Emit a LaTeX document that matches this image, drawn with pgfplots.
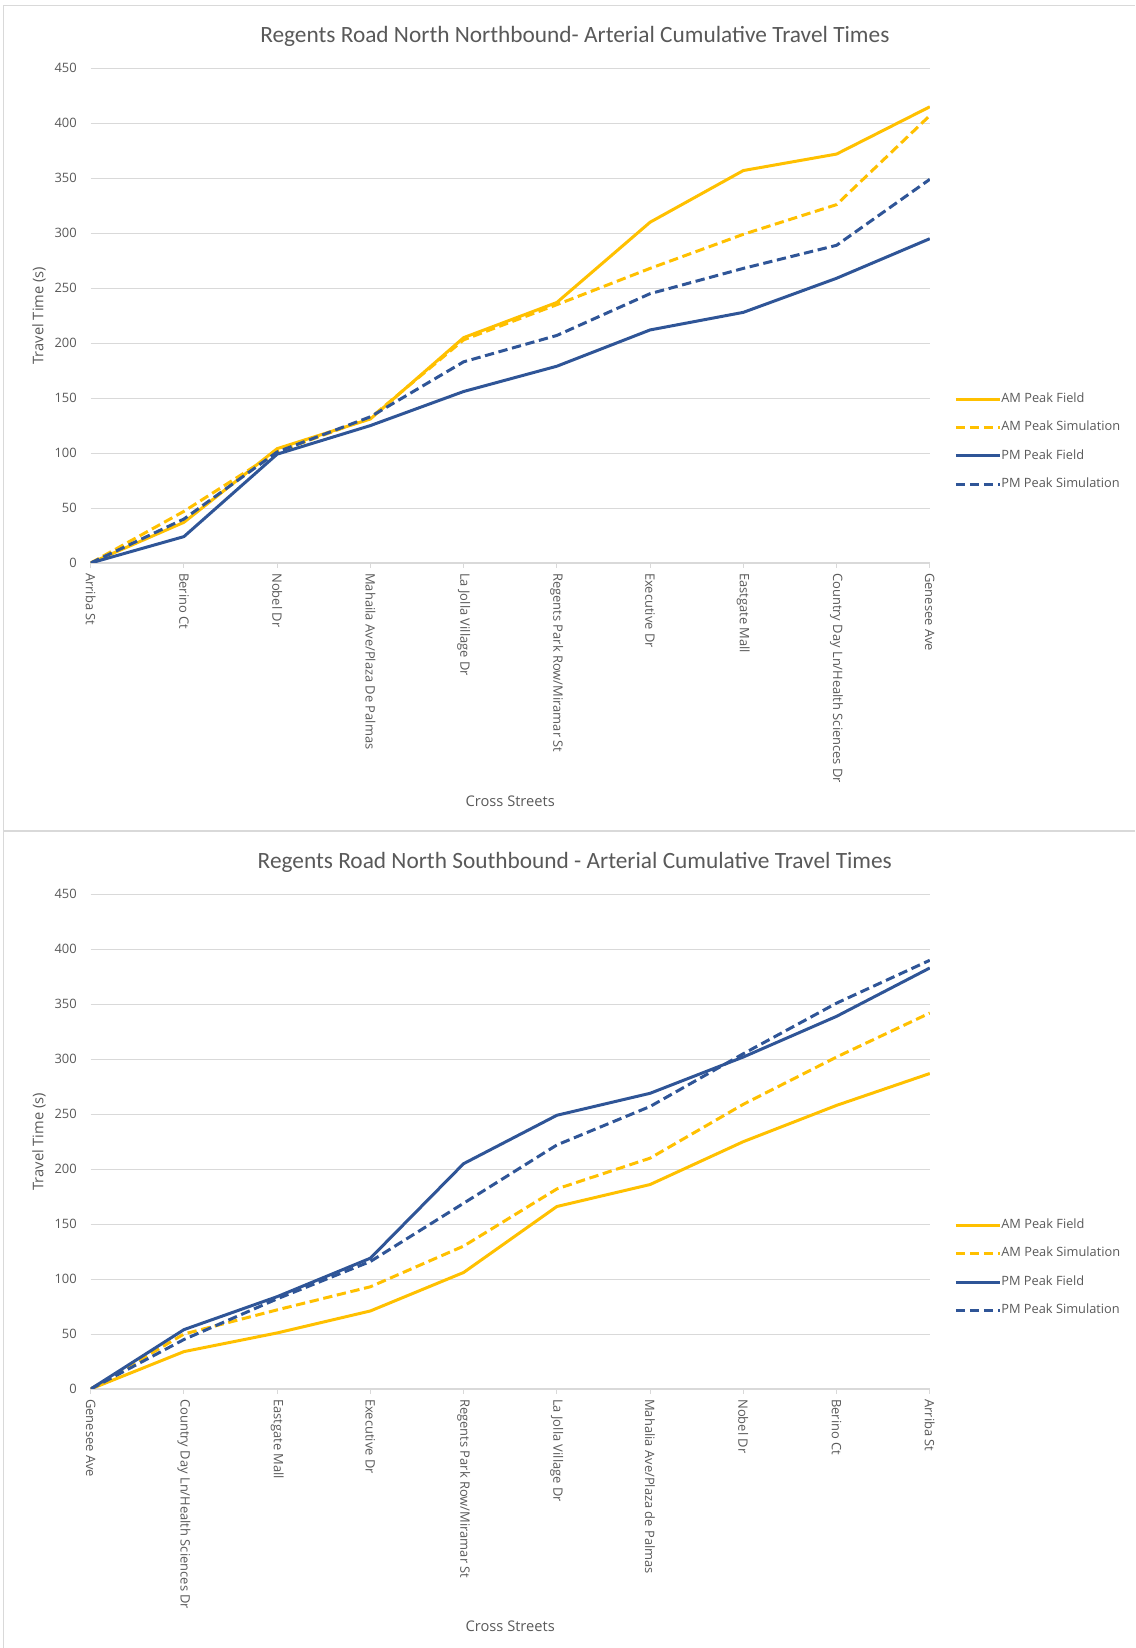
\documentclass[border=0pt]{standalone}
\usepackage{pgfplots}
\pgfplotsset{compat=1.18}
\usepackage{pgfplotstable}
\usepackage{fontspec}
\setmainfont{Carlito}
\newfontfamily\tickfont{Open Sans}

\definecolor{amgold}{HTML}{FFC000}
\definecolor{pmblue}{HTML}{2F5597}
\definecolor{gridgrey}{HTML}{D9D9D9}
\definecolor{txtgrey}{HTML}{595959}

% cumulative travel time (s) at each cross street
\pgfplotstableread{
x amf ams pmf pms
0 0   0   0   0
1 37  47  24  40
2 104 101 99  101
3 131 132 125 133
4 205 203 156 183
5 237 235 179 207
6 310 268 212 245
7 357 299 228 268
8 372 326 259 289
9 415 407 295 349
}\northbound

\pgfplotstableread{
x amf ams pmf pms
0 0   0   0   0
1 34  50  54  45
2 51  72  84  82
3 71  93  119 116
4 106 130 205 169
5 166 182 249 222
6 186 210 269 257
7 225 259 302 305
8 258 302 339 351
9 287 342 383 390
}\southbound

\pgfplotsset{
  travel/.style={
    scale only axis, width=629.3pt, height=371pt,
    xmin=0, xmax=9, ymin=0, ymax=450,
    xtick={0,...,9}, ytick={0,50,...,450},
    axis lines*=left,
    y axis line style={draw=none},
    x axis line style={gridgrey, line width=1pt},
    ymajorgrids, grid style={gridgrey, line width=0.75pt},
    tick align=outside, major tick length=3.5pt,
    xtick style={gridgrey, line width=0.75pt},
    ytick style={draw=none},
    /pgf/number format/assume math mode=true,
    ticklabel style={font=\tickfont\fontsize{9.7}{11}\selectfont, text=txtgrey},
    xticklabel style={rotate=-90, anchor=west, inner sep=0pt},
    xticklabel shift=4pt,
    yticklabel style={anchor=east, inner sep=0pt},
    yticklabel shift=6.8pt,
    title style={at={(axis description cs:0.577,1.049)}, anchor=center, yshift=0pt,
      font=\fontsize{17.5}{20}\selectfont, text=txtgrey},
    ylabel={Travel Time (s)},
    ylabel style={at={(axis description cs:-0.0616,0.5)}, anchor=center,
      font=\tickfont\fontsize{11}{13}\selectfont, text=txtgrey},
    xlabel={Cross Streets},
    xlabel style={at={(axis description cs:0.5,-0.481)}, anchor=center,
      font=\tickfont\fontsize{11}{13}\selectfont, text=txtgrey},
    legend style={at={(axis description cs:1.029,0.245)}, anchor=west,
      draw=none, fill=none, inner sep=0pt, row sep=12.3pt,
      font=\tickfont\fontsize{9.6}{11}\selectfont, text=txtgrey,
      nodes={inner sep=0pt, text height=7pt, text depth=2pt},
      /tikz/every even column/.append style={column sep=3pt}},
    legend cell align=left,
    legend image code/.code={\draw[#1] (0pt,0pt) -- (33pt,0pt);},
    every axis plot/.append style={line width=2.25pt, line join=round},
  },
  simdash/.style={dash pattern=on 7pt off 3.5pt},
}

\begin{document}
\begin{tikzpicture}
\useasboundingbox (0,0) rectangle (851.25pt,1236pt);
\draw[gridgrey, line width=0.75pt] (2.5pt,0) -- (2.5pt,1231.5pt) -- (851.25pt,1231.5pt);
\draw[gridgrey, line width=1.5pt] (2.5pt,612.75pt) -- (851.25pt,612.75pt);

\begin{axis}[travel, at={(68.03pt,813.75pt)}, anchor=south west,
  title={Regents Road North Northbound- Arterial Cumulative Travel Times},
  xticklabels={Arriba St, Berino Ct, Nobel Dr, Mahaila Ave/Plaza De Palmas,
    La Jolla Village Dr, Regents Park Row/Miramar St, Executive Dr,
    Eastgate Mall, Country Day Ln/Health Sciences Dr, Genesee Ave}]
  \addplot[amgold] table[x=x, y=amf] {\northbound};
  \addplot[amgold, simdash] table[x=x, y=ams] {\northbound};
  \addplot[pmblue] table[x=x, y=pmf] {\northbound};
  \addplot[pmblue, simdash] table[x=x, y=pms] {\northbound};
  \legend{AM Peak Field, AM Peak Simulation, PM Peak Field, PM Peak Simulation}
\end{axis}

\begin{axis}[travel, at={(68.03pt,194.25pt)}, anchor=south west,
  title={Regents Road North Southbound - Arterial Cumulative Travel Times},
  xlabel style={at={(axis description cs:0.5,-0.479)}},
  xticklabels={Genesee Ave, Country Day Ln/Health Sciences Dr, Eastgate Mall,
    Executive Dr, Regents Park Row/Miramar St, La Jolla Village Dr,
    Mahalia Ave/Plaza de Palmas, Nobel Dr, Berino Ct, Arriba St}]
  \addplot[amgold] table[x=x, y=amf] {\southbound};
  \addplot[amgold, simdash] table[x=x, y=ams] {\southbound};
  \addplot[pmblue] table[x=x, y=pmf] {\southbound};
  \addplot[pmblue, simdash] table[x=x, y=pms] {\southbound};
  \legend{AM Peak Field, AM Peak Simulation, PM Peak Field, PM Peak Simulation}
\end{axis}
\end{tikzpicture}
\end{document}
